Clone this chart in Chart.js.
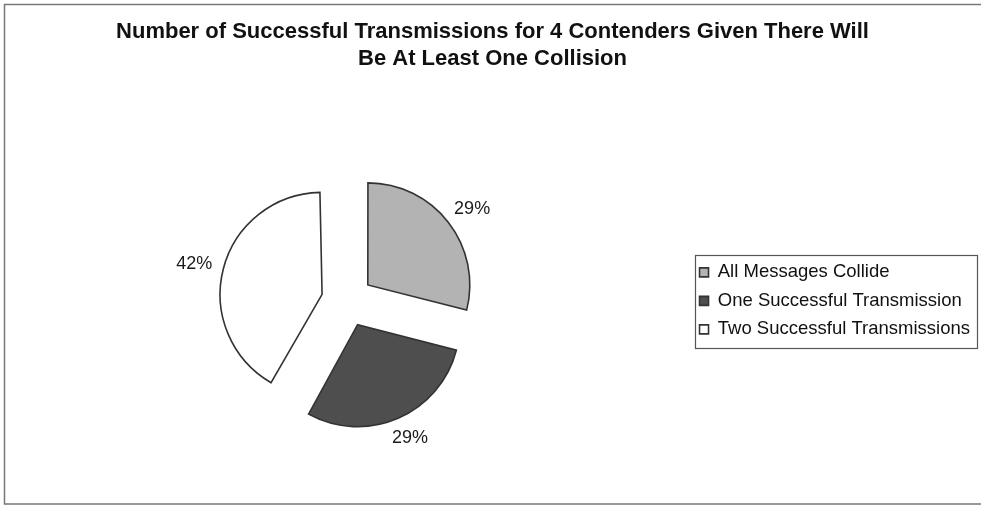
<!DOCTYPE html>
<html>
<head>
<meta charset="utf-8">
<script src="https://cdn.jsdelivr.net/npm/chart.js@4/dist/chart.umd.min.js"></script>
<style>
  body { margin: 0; background: #fff; }
  #wrap { width: 981px; height: 506px; }
</style>
</head>
<body>
<div id="wrap"><canvas id="pie-chart" width="981" height="506"></canvas></div>
<script>
// categories and values
var categories = ["All Messages Collide", "One Successful Transmission", "Two Successful Transmissions"];
var shares = [29, 29, 42];
var sliceColors = ["#b3b3b3", "#4e4e4e", "#ffffff"];
var titleLines = ["Number of Successful Transmissions for 4 Contenders Given There Will", "Be At Least One Collision"];

var PIE_RADIUS = 102;
var EXPLODE = 104; // chart.js moves an arc by offset / 4

// chart.js also grows narrow arcs by the offset, take that back out
function radiusGrowth(arc) {
    var circ = arc.endAngle - arc.startAngle;
    return (arc.options.offset / 4) * (1 - Math.sin(Math.min(Math.PI, circ)));
}

var sameRadius = {
    id: 'sameRadius',
    afterDatasetUpdate: function (chart, args) {
        var meta = chart.getDatasetMeta(args.index);
        meta.data.forEach(function (arc) {
            arc.outerRadius = PIE_RADIUS - radiusGrowth(arc);
        });
    }
};

// white page with the thin frame (no right edge in the scan)
var framePlugin = {
    id: 'frame',
    beforeDraw: function (chart) {
        var c = chart.ctx;
        c.save();
        c.fillStyle = '#ffffff';
        c.fillRect(0, 0, chart.width, chart.height);
        c.strokeStyle = '#777777';
        c.lineWidth = 1.5;
        c.beginPath();
        c.moveTo(chart.width, 4.5);
        c.lineTo(4.5, 4.5);
        c.lineTo(4.5, 504);
        c.lineTo(chart.width, 504);
        c.stroke();
        c.restore();
    }
};

// box around the legend items
var legendBoxPlugin = {
    id: 'legendBox',
    afterDraw: function (chart) {
        var lg = chart.legend;
        if (!lg || !lg.legendHitBoxes || !lg.legendHitBoxes.length) return;
        var l = Infinity, t = Infinity, r = -Infinity, b = -Infinity;
        lg.legendHitBoxes.forEach(function (h) {
            l = Math.min(l, h.left); t = Math.min(t, h.top);
            r = Math.max(r, h.left + h.width); b = Math.max(b, h.top + h.height);
        });
        var c = chart.ctx;
        c.save();
        c.strokeStyle = '#555555';
        c.lineWidth = 1.2;
        c.strokeRect(Math.round(l - 5) + 0.5, Math.round(t - 8) + 0.5, Math.round(r - l + 12), Math.round(b - t + 17));
        c.restore();
    }
};

// percent labels just outside each slice, box edge touching the anchor
var pctLabels = {
    id: 'pctLabels',
    afterDatasetsDraw: function (chart) {
        var meta = chart.getDatasetMeta(0);
        var total = shares.reduce(function (a, v) { return a + v; }, 0);
        var c = chart.ctx;
        c.save();
        c.font = '18px "Liberation Sans", Arial, sans-serif';
        c.fillStyle = '#1a1a1a';
        c.textAlign = 'center';
        c.textBaseline = 'middle';
        meta.data.forEach(function (arc, i) {
            var txt = Math.round(shares[i] / total * 100) + '%';
            var w = c.measureText(txt).width, h = 18;
            var mid = (arc.startAngle + arc.endAngle) / 2;
            var dist = arc.outerRadius + radiusGrowth(arc) + arc.options.offset / 4 + 12;
            var cx = arc.x + Math.cos(mid) * dist + Math.cos(mid) * w / 2;
            var cy = arc.y + Math.sin(mid) * dist + Math.sin(mid) * h / 2;
            c.fillText(txt, cx, cy);
        });
        c.restore();
    }
};

var ctx = document.getElementById('pie-chart').getContext('2d');
var myChart = new Chart(ctx, {
    type: 'pie',
    data: {
        labels: categories,
        datasets: [{
            data: shares,
            backgroundColor: sliceColors,
            borderColor: '#333333',
            borderWidth: 1.6,
            borderJoinStyle: 'miter',
            offset: EXPLODE,
            radius: PIE_RADIUS
        }]
    },
    options: {
        responsive: false,
        animation: false,
        layout: { padding: { left: 5, right: 1, top: 0, bottom: 0 } },
        plugins: {
            title: {
                display: true,
                text: titleLines,
                color: '#111111',
                font: { family: '"Liberation Sans", Arial, sans-serif', size: 22, weight: 'bold', lineHeight: 1.22 },
                padding: { top: 19, bottom: 23 }
            },
            legend: {
                position: 'right',
                fullSize: false,
                labels: {
                    color: '#111111',
                    boxWidth: 9,
                    boxHeight: 9,
                    padding: 10,
                    font: { family: '"Liberation Sans", Arial, sans-serif', size: 18.5 }
                }
            },
            tooltip: { enabled: false }
        }
    },
    plugins: [sameRadius, framePlugin, legendBoxPlugin, pctLabels]
});
</script>
</body>
</html>
